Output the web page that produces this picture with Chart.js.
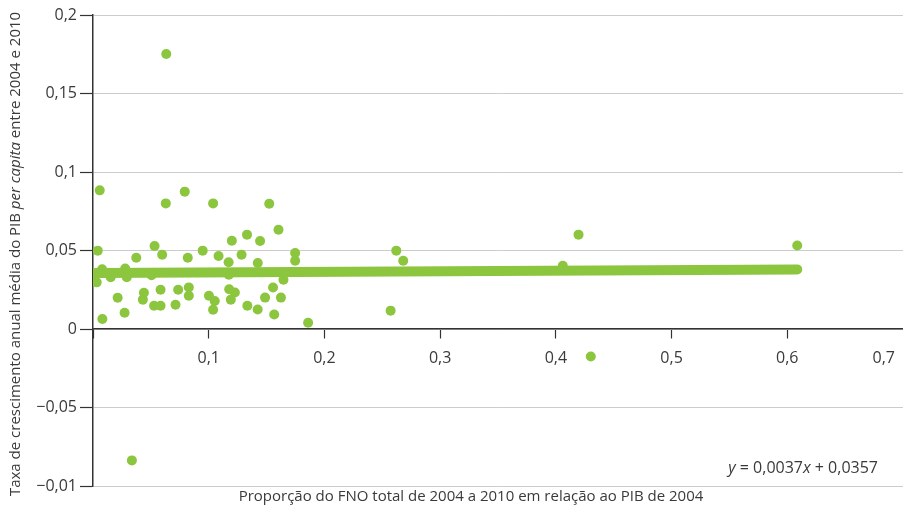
<!DOCTYPE html>
<html>
<head>
<meta charset="utf-8">
<script src="https://cdn.jsdelivr.net/npm/chart.js@4.4.0/dist/chart.umd.min.js"></script>
<style>
  html, body { margin: 0; padding: 0; background: #ffffff; overflow: hidden; }
  #wrap { width: 903px; height: 507px; position: relative; }
</style>
</head>
<body>
<div id="wrap"><canvas id="chart"></canvas></div>
<script>
// FNO share of 2004 GDP (x) and mean annual GDP per capita growth 2004-2010 (y), one pair per municipality
const fnoShare = [
  0.0633, 0.0058, 0.0629, 0.0793, 0.1038, 0.1523, 0.1603, 0.0041, 0.0532, 0.0598,
  0.0374, 0.0819, 0.0948, 0.1085, 0.1200, 0.1172, 0.1284, 0.1331, 0.1444, 0.1424,
  0.1747, 0.1747, 0.1646, 0.0079, 0.0278, 0.0032, 0.0153, 0.0292, 0.0506, 0.1174,
  0.0022, 0.0213, 0.0273, 0.0081, 0.0440, 0.0431, 0.0584, 0.0528, 0.0584, 0.0713,
  0.0736, 0.0828, 0.0828, 0.1002, 0.1052, 0.1038, 0.1177, 0.1226, 0.1191, 0.1334,
  0.1423, 0.1487, 0.1556, 0.1566, 0.1624, 0.1859, 0.2621, 0.2681, 0.2572, 0.4196,
  0.4060, 0.4302, 0.6086, 0.0336
];
const gdpGrowth = [
  0.1752, 0.0883, 0.0800, 0.0875, 0.0800, 0.0798, 0.0632, 0.0499, 0.0529, 0.0473,
  0.0454, 0.0454, 0.0499, 0.0465, 0.0562, 0.0425, 0.0473, 0.0601, 0.0561, 0.0420,
  0.0484, 0.0435, 0.0314, 0.0381, 0.0385, 0.0297, 0.0330, 0.0330, 0.0343, 0.0346,
  0.0352, 0.0199, 0.0104, 0.0064, 0.0231, 0.0187, 0.0250, 0.0148, 0.0148, 0.0155,
  0.0250, 0.0265, 0.0212, 0.0212, 0.0178, 0.0123, 0.0253, 0.0232, 0.0187, 0.0148,
  0.0124, 0.0200, 0.0264, 0.0092, 0.0200, 0.0040, 0.0499, 0.0435, 0.0117, 0.0601,
  0.0403, -0.0175, 0.0532, -0.0837
];

// Linear fit reported on the chart
const trendSlope = 0.0037;
const trendIntercept = 0.0357;

// Axis ticks and their printed labels
const xTickValues = [0, 0.1, 0.2, 0.3, 0.4, 0.5, 0.6, 0.7];
const xTickLabels = ['', '0,1', '0,2', '0,3', '0,4', '0,5', '0,6', '0,7\u2002'];
const yTickValues = [-0.1, -0.05, 0, 0.05, 0.1, 0.15, 0.2];
const yTickLabels = ['\u22120,01', '\u22120,05', '0', '0,05', '0,1', '0,15', '0,2'];

const xTitle = 'Proporção do FNO total de 2004 a 2010 em relação ao PIB de 2004';
const yTitleRuns = [
  ['Taxa de crescimento anual média do PIB ', false],
  ['per capita', true],
  [' entre 2004 e 2010', false]
];

const GREEN = '#8cc63f';
const INK = '#3a3a3a';
const AXIS = '#333333';
const FONT = '"Open Sans", "Noto Sans", sans-serif';

const points = fnoShare.map((x, i) => ({ x: x, y: gdpGrowth[i] }));
const xLo = Math.min(...fnoShare);
const xHi = Math.max(...fnoShare);
const trendPoints = [xLo, xHi].map(x => ({ x: x, y: trendSlope * x + trendIntercept }));

const fmt = v => v.toFixed(4).replace('.', ',');
const equationRuns = [
  ['y', true],
  [' = ' + fmt(trendSlope), false],
  ['x', true],
  [' + ' + fmt(trendIntercept), false]
];

function drawRuns(ctx, runs, size, anchorX, anchorY, align) {
  const widths = runs.map(([t, it]) => {
    ctx.font = (it ? 'italic ' : '') + size + 'px ' + FONT;
    return ctx.measureText(t).width;
  });
  const total = widths.reduce((a, b) => a + b, 0);
  let x = align === 'right' ? anchorX - total : anchorX - total / 2;
  ctx.textBaseline = 'middle';
  ctx.textAlign = 'left';
  runs.forEach(([t, it], i) => {
    ctx.font = (it ? 'italic ' : '') + size + 'px ' + FONT;
    ctx.fillText(t, x, anchorY);
    x += widths[i];
  });
}

const chartTexts = {
  id: 'chartTexts',
  afterDraw(chart) {
    const ctx = chart.ctx;
    ctx.save();
    ctx.fillStyle = INK;
    // x axis title
    drawRuns(ctx, [[xTitle, false]], 15, 471, 497, 'center');
    // regression equation
    drawRuns(ctx, equationRuns, 16, 878, 468, 'right');
    // y axis title, rotated
    ctx.translate(16, 254);
    ctx.rotate(-Math.PI / 2);
    drawRuns(ctx, yTitleRuns, 15, 0, 0, 'center');
    ctx.restore();
  }
};

new Chart(document.getElementById('chart'), {
  type: 'scatter',
  data: {
    datasets: [
      {
        type: 'line',
        data: trendPoints,
        borderColor: GREEN,
        borderWidth: 10,
        borderCapStyle: 'round',
        pointRadius: 0,
        fill: false,
        order: 0
      },
      {
        data: points,
        backgroundColor: GREEN,
        borderWidth: 0,
        pointRadius: 5,
        pointHoverRadius: 5,
        order: 1
      }
    ]
  },
  options: {
    responsive: true,
    maintainAspectRatio: false,
    animation: false,
    events: [],
    layout: { autoPadding: false, padding: { top: 15, right: 0, bottom: 21, left: 0 } },
    plugins: {
      legend: { display: false },
      tooltip: { enabled: false },
      title: { display: false }
    },
    scales: {
      x: {
        type: 'linear',
        position: { y: 0 },
        min: 0,
        max: 0.7,
        afterBuildTicks: s => { s.ticks = xTickValues.map(v => ({ value: v })); },
        // the axis runs to the right edge; the last label is end-aligned instead
        afterFit: s => { s.paddingLeft = 0; s.paddingRight = 0; },
        ticks: {
          autoSkip: false,
          maxRotation: 0,
          align: 'inner',
          padding: 11,
          color: INK,
          font: { family: FONT, size: 16 },
          callback: (v, i) => xTickLabels[i]
        },
        grid: {
          drawOnChartArea: false,
          drawTicks: true,
          tickLength: 9,
          tickColor: c => (c.index === xTickValues.length - 1 ? 'rgba(0,0,0,0)' : AXIS),
          tickWidth: 1.2
        },
        border: { color: AXIS, width: 1.5 }
      },
      y: {
        type: 'linear',
        min: -0.1,
        max: 0.2,
        afterBuildTicks: s => { s.ticks = yTickValues.map(v => ({ value: v })); },
        afterFit: s => { s.width = 93; },
        ticks: {
          autoSkip: false,
          padding: 3,
          color: INK,
          font: { family: FONT, size: 16 },
          callback: (v, i) => yTickLabels[i]
        },
        grid: {
          color: '#cccccc',
          lineWidth: 1,
          tickLength: 13,
          tickColor: AXIS,
          tickWidth: 1.2
        },
        border: { color: AXIS, width: 1.5 }
      }
    }
  },
  plugins: [chartTexts]
});
</script>
</body>
</html>
